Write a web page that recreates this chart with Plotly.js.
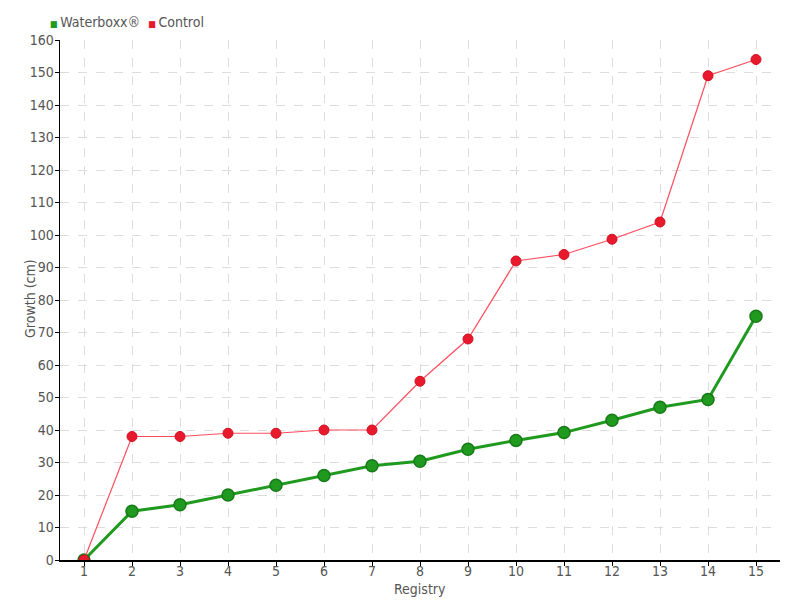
<!DOCTYPE html>
<html>
<head>
<meta charset="utf-8">
<script src="https://cdn.plot.ly/plotly-3.0.1.min.js"></script>
<style>html,body{margin:0;padding:0;background:#fff;}#chart{width:800px;height:600px;}</style>
</head>
<body>
<div id="chart"></div>
<script>
var registry = [1,2,3,4,5,6,7,8,9,10,11,12,13,14,15];
var tickLabels = ['1','2','3','4','5','6','7','8','9','10','11','12','13','14','15'];
var waterboxx = [0,15,17,20,23,26,29,30.4,34.1,36.8,39.2,43,47,49.4,75];
var control = [0,38,38,39,39,40,40,55,68,92,94,98.7,104,149,154];
var seriesNames = ['Waterboxx®','Control'];

var font = "'DejaVu Sans Condensed', 'DejaVu Sans', sans-serif";
var green = '#1f9a1f', greenDark = '#177a17';
var red = '#e8192c', redLine = '#ff4d5e';

var traces = [
  {x: registry, y: waterboxx, mode: 'lines+markers', name: seriesNames[0],
   line: {color: green, width: 3},
   marker: {color: green, size: 12, line: {color: greenDark, width: 1.5}}},
  {x: registry, y: control, mode: 'lines+markers', name: seriesNames[1],
   line: {color: redLine, width: 1.2},
   marker: {color: red, size: 10, line: {color: '#d0101f', width: 1}}}
];

var legendText = '<span style="color:' + green + ';font-size:9px">■ </span>' + seriesNames[0] +
                 '  <span style="color:' + red + ';font-size:9px">■ </span>' + seriesNames[1];

var layout = {
  width: 800, height: 600,
  margin: {l: 60, r: 20, t: 40, b: 40},
  paper_bgcolor: '#fff', plot_bgcolor: '#fff',
  font: {family: font, color: '#555', size: 14},
  showlegend: false,
  xaxis: {
    range: [0.5, 15.5], tickvals: registry, ticktext: tickLabels,
    showline: true, linecolor: '#000', linewidth: 1.5, ticks: 'outside', ticklen: 4, tickcolor: '#000',
    showgrid: true, gridcolor: '#dddddd', griddash: 'dash', gridwidth: 1, zeroline: false,
    tickfont: {size: 14, color: '#555'}, ticklabelstandoff: -6
  },
  yaxis: {
    range: [0, 160], dtick: 10, tick0: 0,
    showline: true, linecolor: '#000', linewidth: 1.5, ticks: 'outside', ticklen: 4, tickcolor: '#000',
    showgrid: true, gridcolor: '#dddddd', griddash: 'dash', gridwidth: 1, zeroline: false,
    tickfont: {size: 14, color: '#555'}, ticklabelstandoff: -2
  },
  annotations: [
    {text: legendText, xref: 'paper', yref: 'paper', x: -0.0167, y: 1.0346, xanchor: 'left', yanchor: 'middle',
     showarrow: false, font: {size: 14, color: '#555'}},
    {text: 'Registry', xref: 'paper', yref: 'paper', x: 0.5, y: -0.056, xanchor: 'center', yanchor: 'middle',
     showarrow: false, borderpad: 0, font: {size: 14, color: '#555'}},
    {text: 'Growth (cm)', xref: 'paper', yref: 'paper', x: -0.0417, y: 0.504, xanchor: 'center', yanchor: 'middle',
     textangle: -90, showarrow: false, font: {size: 14, color: '#555'}}
  ]
};

Plotly.newPlot('chart', traces, layout, {displayModeBar: false, staticPlot: true});
</script>
</body>
</html>
